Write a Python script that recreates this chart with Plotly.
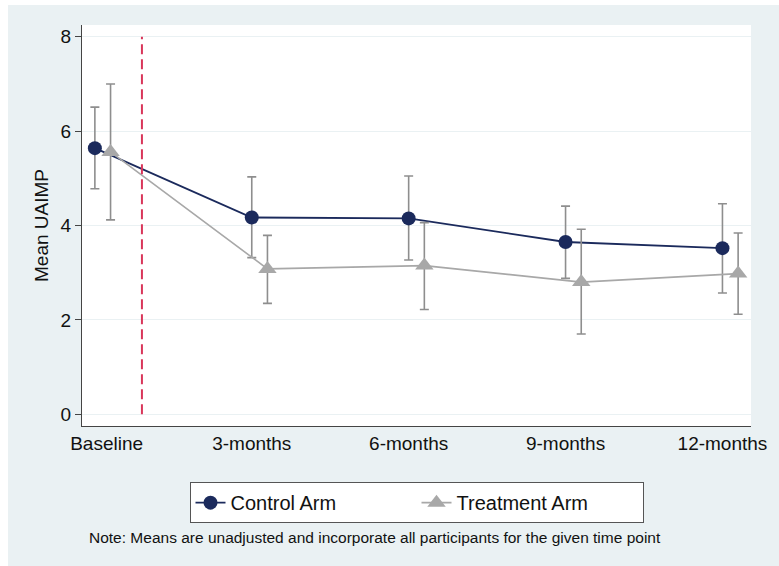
import plotly.graph_objects as go

# ---- data ----
categories = ["Baseline", "3-months", "6-months", "9-months", "12-months"]
control_mean = [5.64, 4.17, 4.15, 3.65, 3.52]
control_lo = [4.78, 3.32, 3.27, 2.88, 2.57]
control_hi = [6.51, 5.03, 5.05, 4.41, 4.46]
treat_mean = [5.56, 3.08, 3.15, 2.80, 2.98]
treat_lo = [4.12, 2.35, 2.22, 1.70, 2.12]
treat_hi = [7.00, 3.79, 4.06, 3.92, 3.84]
y_ticks = [0, 2, 4, 6, 8]
intervention_x = 0.30
note_text = "Note: Means are unadjusted and incorporate all participants for the given time point"

# ---- styling / layout helpers ----
FONT = "Liberation Sans, Arial, sans-serif"
NAVY = "#1b2a5c"
GREY = "#a8a8a8"
CI_GREY = "#8e8e8e"
BG = "#eaf1f3"
offset = 0.10

xc = list(range(len(categories)))
xt = [x + offset for x in xc]

def ci(mean, lo, hi):
    return dict(type="data", symmetric=False,
                array=[h - m for h, m in zip(hi, mean)],
                arrayminus=[m - l for m, l in zip(mean, lo)],
                color=CI_GREY, thickness=1.6, width=4.5)

fig = go.Figure()
fig.add_trace(go.Scatter(
    x=xc, y=control_mean, mode="lines+markers", name="Control Arm",
    line=dict(color=NAVY, width=1.8),
    marker=dict(symbol="circle", size=14, color=NAVY),
    error_y=ci(control_mean, control_lo, control_hi)))
fig.add_trace(go.Scatter(
    x=xt, y=treat_mean, mode="lines+markers", name="Treatment Arm",
    line=dict(color=GREY, width=1.6),
    marker=dict(symbol="triangle-up", size=16, color=GREY),
    error_y=ci(treat_mean, treat_lo, treat_hi)))

# intervention reference line
fig.add_shape(type="line", xref="x", yref="y",
              x0=intervention_x, x1=intervention_x, y0=y_ticks[0], y1=y_ticks[-1],
              line=dict(color="#d9365a", width=2, dash="10px,5px"), layer="above")

tickvals = [x + (0.075 if i == 0 else 0) for i, x in enumerate(xc)]

fig.update_layout(
    width=771, height=561,
    margin=dict(l=74, r=19, t=20, b=140),
    paper_bgcolor=BG, plot_bgcolor="white",
    font=dict(family=FONT, size=19, color="#111111"),
    showlegend=True,
    legend=dict(orientation="h", x=0.5, xanchor="center", y=-0.14, yanchor="top",
                bgcolor="white", bordercolor="#555555", borderwidth=1,
                font=dict(size=20), entrywidth=181, tracegroupgap=0),
    xaxis=dict(range=[-0.082, 4.182], tickmode="array", tickvals=tickvals,
               ticktext=categories, showgrid=False, zeroline=False,
               showline=True, linecolor="#444444", linewidth=1, ticks="",
               tickfont=dict(size=19)),
    yaxis=dict(range=[-0.25, 8.25], tickmode="array", tickvals=y_ticks,
               showgrid=True, gridcolor=BG, gridwidth=1, zeroline=False,
               showline=True, linecolor="#444444", linewidth=1,
               ticks="outside", ticklen=6, tickcolor="#444444",
               tickfont=dict(size=19),
               title=dict(text="Mean UAIMP", font=dict(size=19), standoff=6)),
    annotations=[dict(text=note_text, xref="paper", yref="paper",
                      x=0.008, y=-0.277, xanchor="left", yanchor="middle",
                      showarrow=False, font=dict(size=15.5, color="#111111"))],
)

fig.write_html("out.html",
               post_script="document.body.style.margin='5px 0 0 8px';document.body.style.overflow='hidden';")
